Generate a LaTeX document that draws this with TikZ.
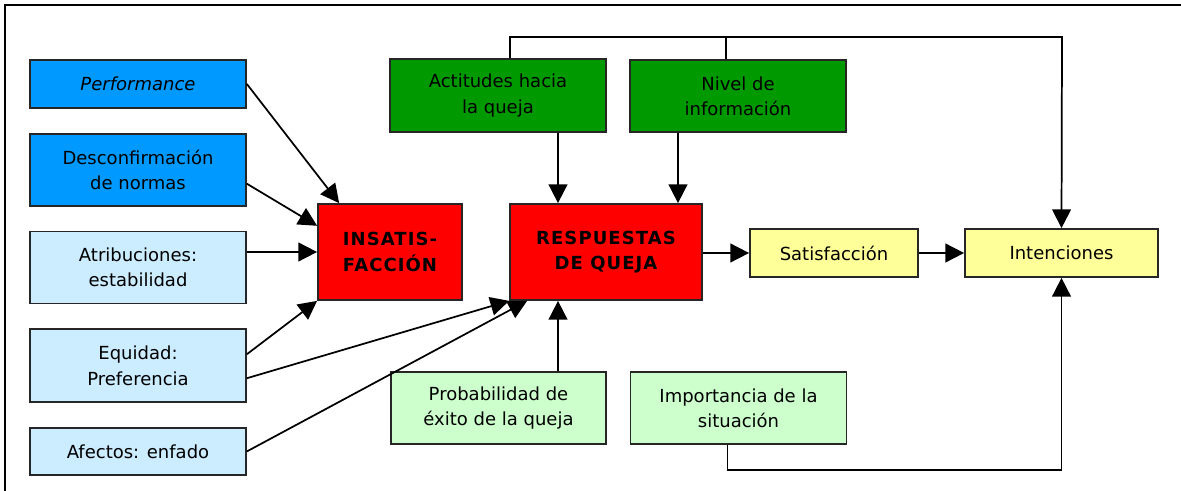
\documentclass[tikz,border=0pt]{standalone}
\usepackage{fontspec}
\setmainfont{DejaVu Sans}
\usetikzlibrary{arrows.meta,positioning,calc}
\definecolor{azul}{RGB}{0,153,255}
\definecolor{celeste}{RGB}{204,236,255}
\definecolor{rojo}{RGB}{255,0,0}
\definecolor{verde}{RGB}{0,153,0}
\definecolor{verdecl}{RGB}{204,255,204}
\definecolor{amarillo}{RGB}{255,255,153}

\begin{document}
\begin{tikzpicture}[x=0.75pt, y=-0.75pt, node distance=18pt,
  >={Triangle[length=14pt,width=14pt]}, line width=1.3pt,
  box/.style={draw=black!85, line width=1.3pt, inner sep=2pt, align=center,
    minimum width=162pt, font=\fontsize{13.5}{19}\selectfont},
  hot/.style={box, fill=rojo, minimum height=72pt,
    font=\fontsize{13.5}{19}\selectfont\bfseries\addfontfeature{LetterSpace=6}}]
\useasboundingbox (0,0) rectangle (1181,491);
\draw[line width=1.6pt] (5,491) -- (5,5) -- (1181,5);

% antecedentes
\node[box, fill=azul, minimum height=36pt] (perf) at (138,84) {\textit{Performance}};
\node[box, fill=azul, minimum height=54pt, below=of perf] (desc) {Desconfirmación\\de normas};
\node[box, fill=celeste, minimum height=54pt, below=of desc] (atri) {Atribuciones:\\estabilidad};
\node[box, fill=celeste, minimum height=54.75pt, below=of atri] (equi) {Equidad:\\Preferencia};
\node[box, fill=celeste, minimum height=35.25pt, below=of equi] (afec) {Afectos: enfado};

\node[hot, minimum width=108pt] (ins) at (390,252) {INSATIS-\\FACCIÓN};
\node[hot, minimum width=144pt] (resp) at (606,252) {RESPUESTAS\\DE QUEJA};

\node[box, fill=verde, minimum height=54.75pt] (acti) at (498,95.5) {Actitudes hacia\\la queja};
\node[box, fill=verde, minimum height=54pt] (nivel) at (738,96) {Nivel de\\información};
\node[box, fill=verdecl, minimum width=161pt, minimum height=54pt] (prob) at (498.5,408) {Probabilidad de\\éxito de la queja};
\node[box, fill=verdecl, minimum height=54pt] (imp) at (738.5,408) {Importancia de la\\situación};

\node[box, fill=amarillo, minimum width=126pt, minimum height=36pt] (satis) at (834,253) {Satisfacción};
\node[box, fill=amarillo, minimum width=144.75pt, minimum height=36pt] (inten) at (1061.5,253) {Intenciones};

\coordinate (ret) at (1062,37);

\draw[->] (perf.east) -- ([xshift=16.5pt]ins.north west);
\draw[->] ([yshift=-10.5pt]desc.east) -- ([yshift=-17pt]ins.north west);
\draw[->] (atri.east |- ins.west) -- (ins.west);
\draw[->] ([yshift=8.6pt]equi.east) -- (ins.south west);
\draw[->] ([yshift=-9.4pt]equi.east) -- (resp.south west);
\draw[->] (afec.east) -- ([xshift=13.5pt]resp.south west);

\draw[->] ([xshift=-36pt]resp.north |- acti.south) -- ([xshift=-36pt]resp.north);
\draw[->] ([xshift=54pt]resp.north |- nivel.south) -- ([xshift=54pt]resp.north);
\draw[->] ([xshift=-36pt]resp.south |- prob.north) -- ([xshift=-36pt]resp.south);

\draw[->] (resp.east |- satis.west) -- (satis.west);
\draw[->] (satis.east) -- (inten.west);

\draw[->] ([xshift=9pt]acti.north) |- (ret) -- (inten.north);
\draw ([xshift=-9pt]nivel.north) -- ([xshift=-9pt]nivel.north |- ret);
\draw[->] ([xshift=-8.25pt]imp.south) -- ++(0,25) -| (inten.south);
\end{tikzpicture}
\end{document}
